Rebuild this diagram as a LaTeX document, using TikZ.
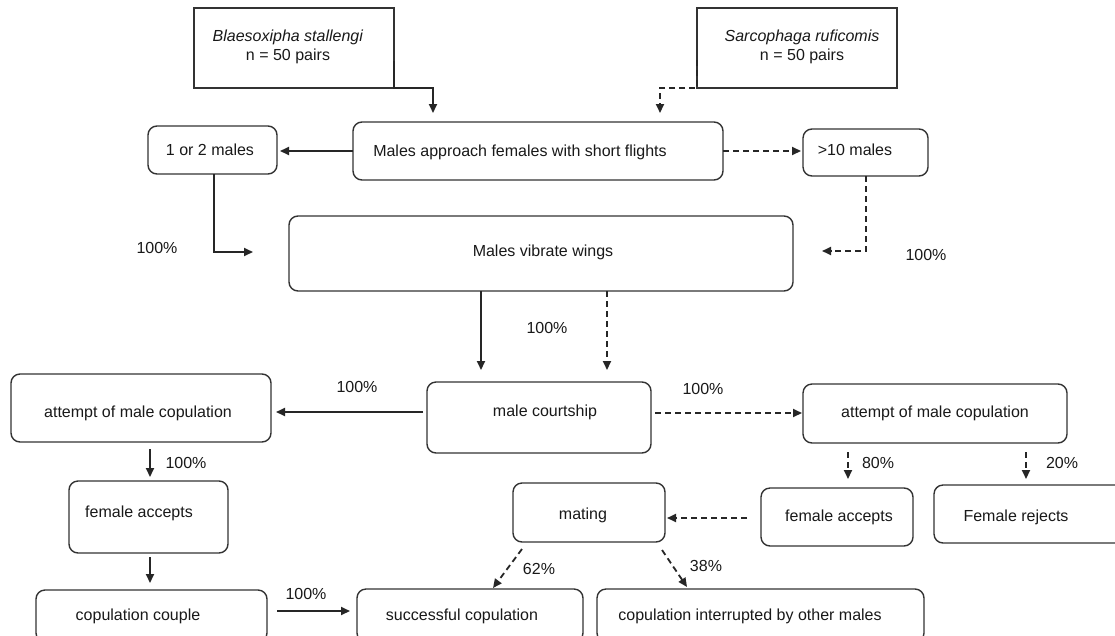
\documentclass[tikz,border=0pt]{standalone}
\usepackage{fontspec}
\setmainfont{Liberation Sans}
\usetikzlibrary{arrows.meta,calc}
\tikzset{
  bx/.style={draw=black!80, line width=1.4pt, rounded corners=9pt, inner sep=0pt, outer sep=0pt},
  sqbx/.style={draw=black!80, line width=1.4pt, inner sep=0pt, outer sep=0pt},
  txt/.style={inner sep=0pt, font=\fontsize{16}{19}\selectfont, text=black!90, align=center},
  pct/.style={inner sep=0pt, font=\fontsize{16}{19}\selectfont, text=black!90},
  con/.style={draw=black!85, line width=1.8pt, -{Triangle[length=9pt,width=8pt]}},
  dcon/.style={con, dash pattern=on 6pt off 4pt},
}
\begin{document}
\begin{tikzpicture}[x=1pt,y=-1pt]
\useasboundingbox (0,0) rectangle (1115,635);
\fill[white] (0,0) rectangle (1115,635);
\clip (0,0) rectangle (1115,635);

% boxes
\node[sqbx, minimum width=200pt, minimum height=80pt] (blae) at (294,48) {};
\node[sqbx, minimum width=200pt, minimum height=80pt] (sarc) at (797,48) {};
\node[bx, minimum width=370pt, minimum height=58pt] (appr) at (538,151) {};
\node[bx, minimum width=129pt, minimum height=48pt] (one) at (212.5,150) {};
\node[bx, minimum width=125pt, minimum height=47pt] (ten) at (865.5,152.5) {};
\node[bx, minimum width=504pt, minimum height=75pt] (vib) at (541,253.5) {};
\node[bx, minimum width=224pt, minimum height=71pt] (court) at (539,417.5) {};
\node[bx, minimum width=260pt, minimum height=68pt] (attL) at (141,408) {};
\node[bx, minimum width=264pt, minimum height=59pt] (attR) at (935,413.5) {};
\node[bx, minimum width=159pt, minimum height=72pt] (faL) at (148.5,517) {};
\node[bx, minimum width=231pt, minimum height=52pt] (cop) at (151.5,616) {};
\node[bx, minimum width=152pt, minimum height=58pt] (faR) at (837,517) {};
\node[bx, minimum width=196pt, minimum height=58pt] (rej) at (1032,514) {};
\node[bx, minimum width=152pt, minimum height=59pt] (mat) at (589,512.5) {};
\node[bx, minimum width=226pt, minimum height=53pt] (succ) at (470,615.5) {};
\node[bx, minimum width=327pt, minimum height=53pt] (intr) at (760.5,615.5) {};

% texts
\node[txt] (t-blae) at (288,47) {\textit{Blaesoxipha stallengi}\\n = 50 pairs};
\node[txt] (t-sarc) at (802,47) {\textit{Sarcophaga ruficomis}\\n = 50 pairs};
\node[txt] (t-appr) at (520,152) {Males approach females with short flights};
\node[txt] (t-one) at (210,150) {1 or 2 males};
\node[txt] (t-ten) at (855,150) {>10 males};
\node[txt] (t-vib) at (543,252) {Males vibrate wings};
\node[txt] (t-court) at (545,412) {male courtship};
\node[txt] (t-attL) at (138,413) {attempt of male copulation};
\node[txt] (t-attR) at (935,413) {attempt of male copulation};
\node[txt] (t-faL) at (139,513) {female accepts};
\node[txt] (t-cop) at (138,616) {copulation couple};
\node[txt] (t-faR) at (839,517) {female accepts};
\node[txt] (t-rej) at (1016,517) {Female rejects};
\node[txt] (t-mat) at (583,515) {mating};
\node[txt] (t-succ) at (462,616) {successful copulation};
\node[txt] (t-intr) at (750,616) {copulation interrupted by other males};

% percentages
\node[pct] (p1) at (157,248) {100\%};
\node[pct] (p2) at (926,255) {100\%};
\node[pct] (p3) at (547,328) {100\%};
\node[pct] (p4) at (357,387) {100\%};
\node[pct] (p5) at (703,389) {100\%};
\node[pct] (p6) at (186,463) {100\%};
\node[pct] (p7) at (878,463) {80\%};
\node[pct] (p8) at (1062,463) {20\%};
\node[pct] (p9) at (306,594) {100\%};
\node[pct] (p10) at (539,569) {62\%};
\node[pct] (p11) at (706,566) {38\%};

% connectors
\draw[con] ($(blae.south east)+(0,-27)$) -- (blae.south east) -| ($(appr.north west)+(80,-9)$);
\draw[dcon] ($(sarc.south west)+(0,-28)$) -- (sarc.south west) -| ($(appr.north east)+(-63,-9)$);
\draw[con] (appr.west) -- ($(appr.west -| one.east)+(3,0)$);
\draw[dcon] (appr.east) -- ($(appr.east -| ten.west)+(-2,0)$);
\draw[con] ($(one.south west)+(66,0)$) |- ($(vib.west)+(-36,-1.5)$);
\draw[dcon] ($(ten.south west)+(63,0)$) |- ($(vib.east)+(29,-2.5)$);
\draw[con] ($(vib.south west)+(192,0)$) -- ($(court.north west)+(54,-12)$);
\draw[dcon] ($(vib.south west)+(318,0)$) -- ($(court.north west)+(180,-12)$);
\draw[con] ($(court.west)+(-4,-5.5)$) -- ($(court.west -| attL.east)+(5,-5.5)$);
\draw[dcon] ($(court.east)+(4,-4.5)$) -- ($(court.east -| attR.west)+(-1,-4.5)$);
\draw[con] ($(attL.south west)+(139,7)$) -- ($(faL.north west)+(81,-4)$);
\draw[con] ($(faL.south west)+(81,4)$) -- ($(cop.north west)+(114,-7)$);
\draw[con] ($(cop.north east)+(10,21)$) -- ($(succ.north west)+(-7,22)$);
\draw[dcon] ($(attR.south west)+(45,9)$) -- ($(faR.north west)+(87,-9)$);
\draw[dcon] ($(attR.south west)+(223,9)$) -- ($(rej.north west)+(92,-6)$);
\draw[dcon] ($(faR.west)+(-14,1)$) -- ($(faR.west -| mat.east)+(2,1)$);
\draw[dcon] ($(mat.south west)+(9,7)$) -- ($(succ.north west)+(136,-1)$);
\draw[dcon] ($(mat.south east)+(-3,8)$) -- ($(intr.north west)+(90,-2)$);
\end{tikzpicture}
\end{document}
